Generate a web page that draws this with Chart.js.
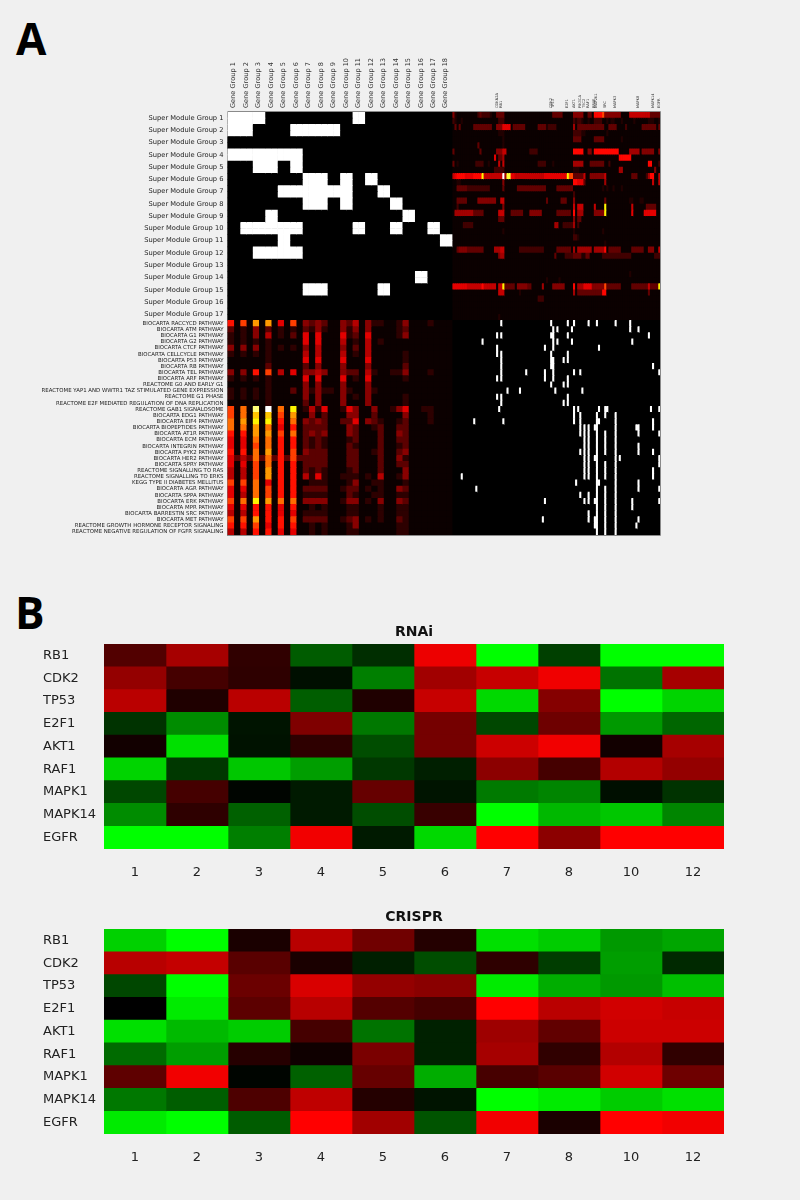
<!DOCTYPE html>
<html><head><meta charset="utf-8">
<script src="https://cdn.jsdelivr.net/npm/chart.js@4"></script>
<style>
html,body{margin:0;padding:0;background:#f0f0f0;width:800px;height:1200px;overflow:hidden}
canvas{position:absolute;left:0}
.tag{position:absolute;font:700 44px "Open Sans";color:#000;line-height:44px}
</style></head><body>
<div class="tag" style="left:16px;top:16px">A</div>
<div class="tag" style="left:15px;top:590px">B</div>
<canvas id="a" width="800" height="560" style="top:0"></canvas>
<canvas id="r" width="800" height="270" style="top:622px"></canvas>
<canvas id="c" width="800" height="270" style="top:907px"></canvas>
<script>
const superModules=["Super Module Group 1","Super Module Group 2","Super Module Group 3","Super Module Group 4","Super Module Group 5","Super Module Group 6","Super Module Group 7","Super Module Group 8","Super Module Group 9","Super Module Group 10","Super Module Group 11","Super Module Group 12","Super Module Group 13","Super Module Group 14","Super Module Group 15","Super Module Group 16","Super Module Group 17"];
const pathways=["BIOCARTA RACCYCD PATHWAY","BIOCARTA ATM PATHWAY","BIOCARTA G1 PATHWAY","BIOCARTA G2 PATHWAY","BIOCARTA CTCF PATHWAY","BIOCARTA CELLCYCLE PATHWAY","BIOCARTA P53 PATHWAY","BIOCARTA RB PATHWAY","BIOCARTA TEL PATHWAY","BIOCARTA ARF PATHWAY","REACTOME G0 AND EARLY G1","REACTOME YAP1 AND WWTR1 TAZ STIMULATED GENE EXPRESSION","REACTOME G1 PHASE","REACTOME E2F MEDIATED REGULATION OF DNA REPLICATION","REACTOME GAB1 SIGNALOSOME","BIOCARTA EDG1 PATHWAY","BIOCARTA EIF4 PATHWAY","BIOCARTA BIOPEPTIDES PATHWAY","BIOCARTA AT1R PATHWAY","BIOCARTA ECM PATHWAY","BIOCARTA INTEGRIN PATHWAY","BIOCARTA PYK2 PATHWAY","BIOCARTA HER2 PATHWAY","BIOCARTA SPRY PATHWAY","REACTOME SIGNALLING TO RAS","REACTOME SIGNALLING TO ERKS","KEGG TYPE II DIABETES MELLITUS","BIOCARTA AGR PATHWAY","BIOCARTA SPPA PATHWAY","BIOCARTA ERK PATHWAY","BIOCARTA MPR PATHWAY","BIOCARTA BARRESTIN SRC PATHWAY","BIOCARTA MET PATHWAY","REACTOME GROWTH HORMONE RECEPTOR SIGNALING","REACTOME NEGATIVE REGULATION OF FGFR SIGNALING"];
const geneGroups=["Gene Group 1","Gene Group 2","Gene Group 3","Gene Group 4","Gene Group 5","Gene Group 6","Gene Group 7","Gene Group 8","Gene Group 9","Gene Group 10","Gene Group 11","Gene Group 12","Gene Group 13","Gene Group 14","Gene Group 15","Gene Group 16","Gene Group 17","Gene Group 18"];
const geneNames=["CDKN2A","RB1","CDK2","TP53","E2F1","AKT1","PIK3CA","TSC2","RAF1","BRAF","MAP2K1","SRC","MAPK3","MAPK8","MAPK14","EGFR"];
const geneColumns=[21,23,47,48,55,58,61,63,65,68,69,73,78,89,96,99];
// Super module x gene group membership (1 = white)
const membership=[
"111000000010000000","110001111000000000","000000000000000000","111111000000000000",
"001101000000000000","000000110101000000","000011111100100000","000000110100010000",
"000100000000001000","011111000010010010","000010000000000001","001111000000000000",
"000000000000000000","000000000000000100","000000110000100000","000000000000000000","000000000000000000"];
// Super module sub-rows x genes, heat level 0-f
const moduleHeat=[
"4100000000 0023222210 0333300000 0000000000 0000000033 3330000044 4440033088 88a4444444 4000066666 6666633333",
"2100100000 0000000000 0022200000 0000000000 0000000000 0000000021 2210010022 2200101100 0100000100 0000111001",
"0303000000 3333333330 0444777703 3333300000 0333312222 0000000050 3333333333 3330033330 0002000000 0333333303",
"0000000000 0000000000 0011100000 0000000000 0000000000 0000000022 2211000000 0000100000 0000000000 0000000000",
"0000000000 0000000000 0000100000 0000000000 0000000000 0000000033 3300000033 3330000000 0100000000 0000000000",
"0000000000 0030000000 0000100000 0000000000 0000000000 0000000000 0000000000 0000000000 0000000000 0000000000",
"3000000000 0003000000 0444660000 0000000222 2000000000 0000000088 8880044088 8888888888 0000055555 0444444004",
"0000000000 0000000000 7033500000 0000000000 0000000000 0000000000 0000000000 0000000000 8888880000 0000000000",
"3010000000 0222200100 0060600000 0000000000 0222200010 0000000055 5550003333 3330020000 0000000000 0000880002",
"0000000000 0000000000 2222200000 0000000000 0000000000 0000000011 1000000000 0000000000 5500000000 0000000400",
"6788887777 8888b66666 6666f5cc77 6666666666 6666777777 77777baa33 3336004444 4446000000 0000003330 0002588006",
"0011000000 0000000000 0000400000 0000000000 0000000000 0000000088 7773000000 0005000000 0000000000 0000006006",
"0033333222 2222222200 0000300000 0333333333 3333300000 3333333300 0000000000 0010100100 0100000000 0000000000",
"0000000000 0000000000 0000000000 0000000000 0000000000 0000000020 0000000000 0000000000 0000000000 0000000000",
"0033333000 0044444444 4006600000 0000000000 0000030000 0033300040 0000000000 0003000000 0000011000 1100000000",
"0020000000 0000000000 0000400000 0000000000 0000000000 0000000060 6660000060 000b000000 0000006000 0003333300",
"0555555555 3333300000 0066600033 3333000444 4440000000 3333333080 5550000044 444b000000 0000007000 0077777700",
"0000000000 0000000000 0033300000 0000000000 0000000000 0000000040 3300000000 0000000000 0000000000 0000000000",
"0000022222 0000000000 0000000000 0000000000 0000000005 5002222250 2000000000 0000000000 0000000000 0000000000",
"0000000000 0000000000 0000100000 0000000000 0000000000 0000000010 0000000000 0010000000 0000000000 0000000000",
"0000000000 0000000000 0000000000 0000000000 0000000000 0000000022 1000000000 0000000000 0000000000 0000000000",
"0000000000 0000000000 0000000000 0000000000 0000000000 0000000000 0000000000 0001000000 0000000000 0000000000",
"0034444333 3333300000 5556600000 0022222222 2222000000 3333333050 5555555055 5558033333 3000003333 3300444006",
"0000000000 0000000000 0045500000 0000000000 0000000003 0000222233 3311330000 0022222222 2222220000 0000000222",
"0000000000 0000000000 0000000000 0000000000 0000000000 0000000000 0000000000 0000000000 0000000000 0000000000",
"0000000000 0000000000 0000000000 0000000000 0000000000 0000000000 0000000000 0000000000 0000000000 0000000000",
"0000000000 0000000000 0000000000 0000000000 0000000000 0000000000 0000000000 0000000000 0000010000 0000000000",
"0000000000 0000000000 0000000000 0000000000 0000010000 0100000000 0000000000 0000000000 0000000000 0000000000",
"7777777666 6666866666 6066b33333 0444443300 0005000044 4444000080 5557777444 444a333333 3000003333 333363333b",
"0000000000 0000000000 0066600000 0010000000 0000000000 0000000050 3333333333 3388000000 0000000000 0000300000",
"0000000000 0000000000 0000000000 0000000000 0222000000 0000000000 0000000000 0000000000 0000000000 0000000000",
"0000000000 0000000000 0000000000 0000000000 0000000000 0000000000 0000000000 0000000000 0000000000 0000000000",
"0000000000 0000000000 0000000000 0000000000 0000000000 0000000000 0000000000 0000000000 0000000000 0000000000",
"0000000000 0000000000 0010000000 0000000000 0000000000 0000000000 0000000000 0000000000 0000000000 0000000000"];
// Pathways x gene group half-columns, heat level 0-f
const pathwayHeat=[
"607090 905070 323200 324031 100130 001000","201030 201010 213100 313030 000120 000000",
"101030 401020 505000 512050 000130 000000","101010 100000 505000 401040 100000 000000",
"303030 101010 304000 302040 000000 000000","101010 100000 404000 401040 000010 000000",
"000000 100000 505000 500050 000010 000000","000000 200000 203000 300030 000020 000000",
"303060 704050 334300 322041 001130 001000","101010 100000 505000 501050 000010 000000",
"000000 100000 303000 300030 000000 000000","101010 100020 313110 310031 000000 000000",
"101010 100000 303000 301030 000010 000000","000000 100000 203000 300030 000010 000000",
"7080d0 f080b0 141500 153003 001350 011000","7080a0 a07090 030200 033002 000030 001000",
"8090b0 b06080 323200 225032 100120 001000","808090 805060 222200 032001 200220 000000",
"606090 907080 232300 032000 200320 000000","505080 806060 212100 012000 200220 000000",
"505070 806060 212100 021000 200120 000000","606080 906070 322200 022001 200230 000000",
"524282 826272 222200 022000 200310 000000","505070 806060 222200 022000 200220 000000",
"404070 906060 212100 012000 200030 000000","404070 906060 415100 111010 400130 000000",
"707080 506060 011100 013001 100010 000000","505080 706060 222200 122010 100320 000000",
"504080 706060 111100 021001 100110 000000","7080b0 908080 333300 133010 300320 000000",
"505060 605060 010100 011000 100110 000000","404060 605050 111100 011000 100110 000000",
"707090 606070 222200 123010 100210 000000","606070 506060 010100 013000 000110 000000",
"404060 605050 010100 011000 000110 000000"];
// Pathway x gene hits: gene column indexes per pathway
const pathwayHits=[
[23,47,55,58,65,69,78,85],[48,50,57,85,89],[21,23,47,48,55,94],[14,48,50,57,86],[21,44,48,70],
[21,23,47,55],[23,47,48,53,55],[23,47,48,96],[23,35,44,48,58,61,99],[21,23,44,48,55],
[47,53,55],[26,32,49,62],[21,23,55],[23,53,55],[22,58,60,70,73,74,95,99],
[58,61,69,73,78],[10,24,58,61,69,70,78,96],[61,63,65,68,69,78,88,89,96],[61,63,65,69,73,78,89,99],[63,65,69,73,78],
[63,65,69,73,78,89],[61,63,65,69,73,78,89,96],[63,65,68,69,78,80,99],[63,65,69,73,78,99],[63,65,69,73,78,96],
[4,63,65,69,73,78,96],[59,69,70,78,89],[11,69,73,78,89,99],[61,65,69,73,78],[44,63,65,68,69,73,78,86,99],
[69,73,78,86],[65,69,73,78],[43,65,68,69,73,78,89],[68,69,73,78,88],[69,73,78]];
// Panel B
const genes=["RB1","CDK2","TP53","E2F1","AKT1","RAF1","MAPK1","MAPK14","EGFR"];
const conditions=["1","2","3","4","5","6","7","8","10","12"];
const rnai=[
[32,65,19,-36,-18,93,-100,-25,-100,-100],
[58,27,18,-6,-50,63,78,94,-45,65],
[73,12,73,-37,12,78,-85,52,-100,-83],
[-20,-55,-8,50,-47,46,-28,43,-60,-40],
[7,-88,-7,18,-30,46,80,95,7,65],
[-83,-22,-78,-62,-22,-12,55,27,70,58],
[-28,27,-2,-10,40,-8,-48,-52,-6,-20],
[-55,18,-38,-10,-30,22,-100,-72,-78,-52],
[-100,-100,-50,95,-10,-85,100,55,100,100]];
const crispr=[
[-82,-100,10,72,44,14,-88,-80,-60,-65],
[72,77,35,10,-12,-30,18,-24,-62,-16],
[-28,-100,42,85,58,54,-92,-68,-60,-75],
[0,-92,36,72,33,27,100,73,82,78],
[-88,-73,-80,27,-45,-13,62,38,80,80],
[-42,-62,15,6,48,-13,65,19,70,19],
[37,95,-2,-38,40,-68,28,35,82,43],
[-47,-37,30,75,14,-8,-100,-92,-80,-88],
[-92,-100,-36,100,63,-33,95,10,100,95]];

const FONT='"DejaVu Sans"';
function hot(d){
  if(d===0) return '#0b0000';
  const t=d/15, c=x=>Math.round(255*Math.max(0,Math.min(1,x)));
  return `rgb(${c(t/0.375)},${c((t-0.375)/0.375)},${c((t-0.75)/0.25)})`;
}
const hotModule=d=>hot(d<11?d*0.72:d);
const digits=s=>s.replace(/ /g,'').split('').map(ch=>parseInt(ch,16));
const frame={id:'frame',
 beforeDatasetsDraw(ch,_,o){
  if(!o.back)return;const a=ch.chartArea,x=ch.ctx;x.save();x.fillStyle=o.back;x.fillRect(a.left,a.top,a.right-a.left,a.bottom-a.top);x.restore();
 },
 afterDatasetsDraw(ch,_,o){
  if(!o.color)return;const a=ch.chartArea,x=ch.ctx;x.save();x.strokeStyle=o.color;x.lineWidth=1;
  x.beginPath();x.moveTo(a.left,a.top-.5);x.lineTo(a.right+.5,a.top-.5);x.lineTo(a.right+.5,a.bottom+.5);x.lineTo(a.left-.5,a.bottom+.5);x.stroke();x.restore();
}};
const base=(extra)=>({indexAxis:'y',responsive:false,animation:false,events:[],maintainAspectRatio:false,
  plugins:{legend:{display:false},tooltip:{enabled:false},...extra}});

// ---- Panel A ----
const HALF=3, GENE=1, halfCols=36, geneCols=100;
const rowColors=[];
superModules.forEach((_,i)=>{
  [0,1].forEach(sub=>{
    const left=[];membership[i].split('').forEach(v=>{left.push(v==='1'?'#fff':'#000',v==='1'?'#fff':'#000')});
    rowColors.push(left.concat(digits(moduleHeat[2*i+sub]).map(hotModule)));
  });
});
pathways.forEach((_,i)=>{
  const left=digits(pathwayHeat[i]).map(hot);
  const right=Array.from({length:geneCols},(_,g)=>pathwayHits[i].includes(g)?'#fff':'#000');
  rowColors.push(left.concat(right));
});
const aRows=rowColors.map((_,i)=>String(i));
const aSets=[];
for(let c=0;c<halfCols+geneCols;c++){
  const w=c<halfCols?HALF:GENE;
  aSets.push({data:aRows.map(()=>w),backgroundColor:rowColors.map(r=>r[c]),barPercentage:1,categoryPercentage:1,borderWidth:0});
}
const aTotal=halfCols*HALF+geneCols*GENE;
const yTicks=[...superModules.map((_,i)=>2*i+.5),...pathways.map((_,i)=>34+i)];
const yLabels=[...superModules,...pathways];
const xTicks=[...geneGroups.map((_,i)=>(2*i+1)*HALF),...geneColumns.map(g=>halfCols*HALF+g+.5)];
const xLabels=[...geneGroups,...geneNames];
new Chart(document.getElementById('a'),{type:'bar',plugins:[frame],data:{labels:aRows,datasets:aSets},
 options:{...base({frame:{color:'#8a8a8a',back:'#000'}}),layout:{padding:{right:140,bottom:25}},
  scales:{
   x:{type:'linear',position:'top',stacked:true,min:0,max:aTotal,grid:{display:false,drawTicks:false},border:{display:false},
      afterBuildTicks:ax=>{ax.ticks=xTicks.map(v=>({value:v}))},
      afterFit:ax=>{ax.height=112},
      ticks:{autoSkip:false,minRotation:90,maxRotation:90,padding:4,color:'#333',
        callback:(v,i)=>xLabels[i],font:c=>({family:FONT,size:c.index<18?6.6:3.6,lineHeight:0.01})}},
   y:{stacked:true,grid:{display:false,drawTicks:false},border:{display:false},
      afterBuildTicks:ax=>{ax.ticks=yTicks.map(v=>({value:v}))},
      afterFit:ax=>{ax.width=227.5},
      ticks:{autoSkip:false,padding:4,color:'#222',
        callback:(v,i)=>yLabels[i],font:c=>({family:FONT,size:c.index<17?6.7:5.4})}}
  }}});

// ---- Panel B ----
function heatColor(v){const k=Math.round(Math.abs(v)*2.55);return v>=0?`rgb(${k},0,0)`:`rgb(0,${k},0)`}
function panel(id,title,values){
  const sets=conditions.map((_,c)=>({data:genes.map(()=>1),backgroundColor:values.map(r=>heatColor(r[c])),barPercentage:1,categoryPercentage:1,borderWidth:0}));
  new Chart(document.getElementById(id),{type:'bar',data:{labels:genes,datasets:sets},
   options:{...base({title:{display:true,text:title,fullSize:false,color:'#111',padding:{top:1.6,bottom:3.6},font:{family:FONT,size:14,weight:'bold'}}}),
    layout:{padding:{left:43,right:76}},
    scales:{
     x:{type:'linear',stacked:true,min:0,max:conditions.length,grid:{display:false,drawTicks:false},border:{display:false},
        afterBuildTicks:ax=>{ax.ticks=conditions.map((_,i)=>({value:i+.5}))},
        afterFit:ax=>{ax.height=43},
        ticks:{autoSkip:false,maxRotation:0,padding:16,color:'#222',callback:(v,i)=>conditions[i],font:{family:FONT,size:13}}},
     y:{stacked:true,grid:{display:false,drawTicks:false},border:{display:false},
        afterFit:ax=>{ax.width=61},
        ticks:{autoSkip:false,crossAlign:'far',color:'#222',font:{family:FONT,size:13}}}
    }}});
}
panel('r','RNAi',rnai);
panel('c','CRISPR',crispr);
</script>
</body></html>
